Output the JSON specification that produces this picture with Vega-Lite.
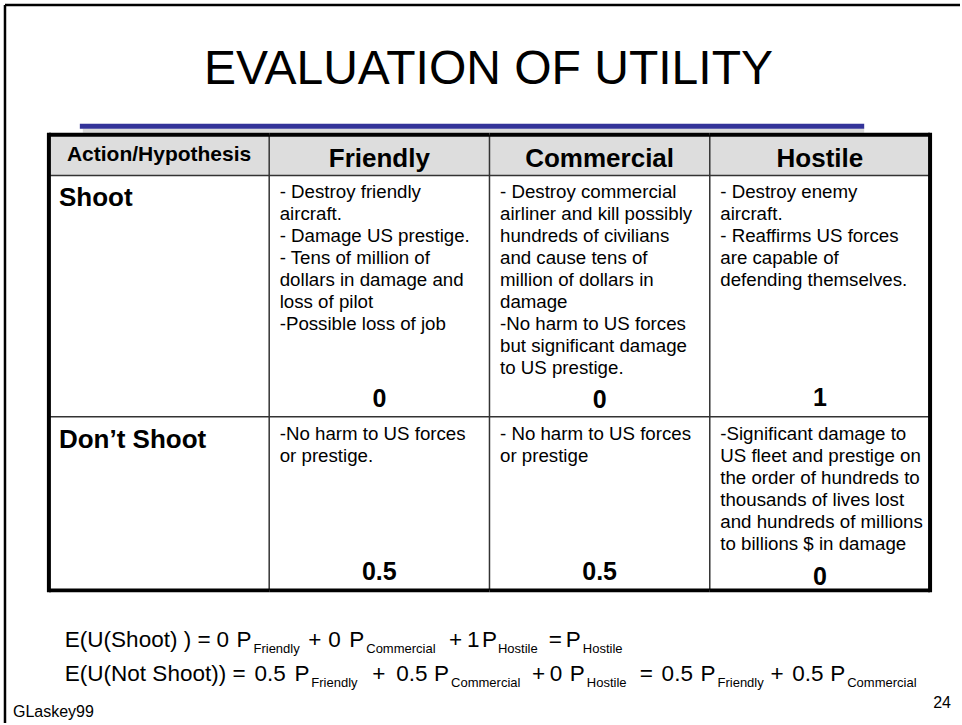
{
  "$schema": "https://vega.github.io/schema/vega-lite/v6.json",
  "width": 962,
  "height": 725,
  "autosize": {"type": "fit", "contains": "padding"},
  "padding": 0,
  "background": "white",
  "config": {"view": {"stroke": null}, "text": {"font": "Liberation Sans", "fill": "black"}},
  "datasets": {
    "cols": [
      {"col": "Action/Hypothesis"},
      {"col": "Friendly"},
      {"col": "Commercial"},
      {"col": "Hostile"}
    ],
    "cells": [
      {"row": "Shoot", "col": "Action/Hypothesis", "line": 3, "text": "Shoot"},
      {"row": "Shoot", "col": "Friendly", "line": 3, "text": "- Destroy friendly\naircraft.\n- Damage US prestige.\n\u00a0- Tens of million of\ndollars in damage and\nloss of pilot\n-Possible loss of job", "utility": "0", "uline": 12.5},
      {"row": "Shoot", "col": "Commercial", "line": 3, "text": "- Destroy commercial\nairliner and kill possibly\nhundreds of civilians\nand cause tens of\nmillion of dollars in\ndamage\n-No harm to US forces\nbut significant damage\nto US prestige.", "utility": "0", "uline": 12.55},
      {"row": "Shoot", "col": "Hostile", "line": 3, "text": "- Destroy enemy\naircraft.\n- Reaffirms US forces\nare capable of\ndefending themselves.", "utility": "1", "uline": 12.45},
      {"row": "Don’t Shoot", "col": "Action/Hypothesis", "line": 14, "text": "Don’t Shoot"},
      {"row": "Don’t Shoot", "col": "Friendly", "line": 14, "text": "-No harm to US forces\nor prestige.", "utility": "0.5", "uline": 20.41},
      {"row": "Don’t Shoot", "col": "Commercial", "line": 14, "text": "- No harm to US forces\nor prestige", "utility": "0.5", "uline": 20.41},
      {"row": "Don’t Shoot", "col": "Hostile", "line": 14, "text": "-Significant damage to\nUS fleet and prestige on\nthe order of hundreds to\nthousands of lives lost\nand hundreds of millions\nto billions $ in damage", "utility": "0", "uline": 20.64}
    ],
    "lines": [
      {"part": "frame", "x": 5, "x2": 5, "from": -5.818, "to": 26.909},
      {"part": "frame", "x": 5, "x2": 962, "from": -5.818, "to": -5.818},
      {"part": "underline", "x": 80, "x2": 866, "from": -0.295, "to": -0.295},
      {"part": "shadow", "x": 83, "x2": 866, "from": -0.091, "to": -0.091}
    ],
    "texts": [
      {"id": "title", "text": "EVALUATION OF UTILITY", "x": 489.5, "line": -2.227},
      {"id": "author", "text": "GLaskey99", "x": 13, "line": 26.636},
      {"id": "page", "text": "24", "x": 953, "line": 26.227}
    ],
    "equations": [
      {"eq": 1, "name": "E(U(Shoot))", "line": 23.45},
      {"eq": 2, "name": "E(U(Not Shoot))", "line": 25.0}
    ],
    "terms": [
      {"eq": 1, "x": 65, "t": "E(U(Shoot) )", "sub": false},
      {"eq": 1, "x": 198, "t": "=", "sub": false},
      {"eq": 1, "x": 217, "t": "0", "sub": false},
      {"eq": 1, "x": 237, "t": "P", "sub": false},
      {"eq": 1, "x": 254, "t": "Friendly", "sub": true},
      {"eq": 1, "x": 309, "t": "+", "sub": false},
      {"eq": 1, "x": 329, "t": "0", "sub": false},
      {"eq": 1, "x": 350, "t": "P", "sub": false},
      {"eq": 1, "x": 367, "t": "Commercial", "sub": true},
      {"eq": 1, "x": 450, "t": "+", "sub": false},
      {"eq": 1, "x": 468, "t": "1", "sub": false},
      {"eq": 1, "x": 483, "t": "P", "sub": false},
      {"eq": 1, "x": 499, "t": "Hostile", "sub": true},
      {"eq": 1, "x": 550, "t": "=", "sub": false},
      {"eq": 1, "x": 567, "t": "P", "sub": false},
      {"eq": 1, "x": 584, "t": "Hostile", "sub": true},
      {"eq": 2, "x": 65, "t": "E(U(Not Shoot))", "sub": false},
      {"eq": 2, "x": 233, "t": "=", "sub": false},
      {"eq": 2, "x": 255, "t": "0.5", "sub": false},
      {"eq": 2, "x": 295, "t": "P", "sub": false},
      {"eq": 2, "x": 312, "t": "Friendly", "sub": true},
      {"eq": 2, "x": 373, "t": "+", "sub": false},
      {"eq": 2, "x": 397, "t": "0.5", "sub": false},
      {"eq": 2, "x": 435, "t": "P", "sub": false},
      {"eq": 2, "x": 452, "t": "Commercial", "sub": true},
      {"eq": 2, "x": 533, "t": "+", "sub": false},
      {"eq": 2, "x": 551, "t": "0", "sub": false},
      {"eq": 2, "x": 571, "t": "P", "sub": false},
      {"eq": 2, "x": 588, "t": "Hostile", "sub": true},
      {"eq": 2, "x": 641, "t": "=", "sub": false},
      {"eq": 2, "x": 663, "t": "0.5", "sub": false},
      {"eq": 2, "x": 702, "t": "P", "sub": false},
      {"eq": 2, "x": 719, "t": "Friendly", "sub": true},
      {"eq": 2, "x": 772, "t": "+", "sub": false},
      {"eq": 2, "x": 794, "t": "0.5", "sub": false},
      {"eq": 2, "x": 832, "t": "P", "sub": false},
      {"eq": 2, "x": 849, "t": "Commercial", "sub": true}
    ]
  },
  "resolve": {"scale": {"x": "independent"}},
  "layer": [
    {
      "data": {"name": "lines"},
      "transform": [{"filter": "datum.part == 'frame'"}],
      "mark": {"type": "rule", "stroke": "black", "strokeWidth": 2.5},
      "encoding": {
        "x": {"field": "x", "type": "quantitative", "axis": null, "scale": {"domain": [0, 962], "nice": false, "zero": false}},
        "x2": {"field": "x2"},
        "y": {"field": "from", "type": "quantitative", "axis": null, "scale": {"domain": [-6.04545, 26.90909], "reverse": true, "nice": false, "zero": false}},
        "y2": {"field": "to"}
      }
    },
    {
      "data": {"name": "lines"},
      "transform": [{"filter": "datum.part == 'shadow'"}],
      "mark": {"type": "rule", "stroke": "#d9d9d9", "strokeWidth": 4},
      "encoding": {
        "x": {"field": "x", "type": "quantitative", "axis": null, "scale": {"domain": [0, 962], "nice": false, "zero": false}},
        "x2": {"field": "x2"},
        "y": {"field": "from", "type": "quantitative", "axis": null, "scale": {"domain": [-6.04545, 26.90909], "reverse": true, "nice": false, "zero": false}},
        "y2": {"field": "to"}
      }
    },
    {
      "data": {"name": "lines"},
      "transform": [{"filter": "datum.part == 'underline'"}],
      "mark": {"type": "rule", "stroke": "#333399", "strokeWidth": 5},
      "encoding": {
        "x": {"field": "x", "type": "quantitative", "axis": null, "scale": {"domain": [0, 962], "nice": false, "zero": false}},
        "x2": {"field": "x2"},
        "y": {"field": "from", "type": "quantitative", "axis": null, "scale": {"domain": [-6.04545, 26.90909], "reverse": true, "nice": false, "zero": false}},
        "y2": {"field": "to"}
      }
    },
    {
      "data": {"name": "cols"},
      "mark": {"type": "rect", "fill": "#dddddd"},
      "encoding": {
        "x": {"field": "col", "type": "nominal", "axis": null, "scale": {"type": "band", "domain": ["Action/Hypothesis", "Friendly", "Commercial", "Hostile"], "paddingInner": 0, "paddingOuter": 0.17894, "align": 0.6203}},
        "y": {"datum": 0.09, "type": "quantitative", "axis": null, "scale": {"domain": [-6.04545, 26.90909], "reverse": true, "nice": false, "zero": false}},
        "y2": {"datum": 1.955}
      }
    },
    {
      "data": {"name": "cols"},
      "transform": [{"filter": "datum.col != 'Action/Hypothesis'"}],
      "mark": {"type": "rule", "stroke": "#333333", "strokeWidth": 1.5},
      "encoding": {
        "x": {"field": "col", "type": "nominal", "bandPosition": 0, "axis": null, "scale": {"type": "band", "domain": ["Action/Hypothesis", "Friendly", "Commercial", "Hostile"], "paddingInner": 0, "paddingOuter": 0.17894, "align": 0.6203}},
        "y": {"datum": 0.1, "type": "quantitative", "axis": null, "scale": {"domain": [-6.04545, 26.90909], "reverse": true, "nice": false, "zero": false}},
        "y2": {"datum": 20.86}
      }
    },
    {
      "data": {"name": "cols"},
      "mark": {"type": "rect", "fill": "#333333"},
      "encoding": {
        "x": {"field": "col", "type": "nominal", "axis": null, "scale": {"type": "band", "domain": ["Action/Hypothesis", "Friendly", "Commercial", "Hostile"], "paddingInner": 0, "paddingOuter": 0.17894, "align": 0.6203}},
        "y": {"datum": 1.92, "type": "quantitative", "axis": null, "scale": {"domain": [-6.04545, 26.90909], "reverse": true, "nice": false, "zero": false}},
        "y2": {"datum": 1.99}
      }
    },
    {
      "data": {"name": "cols"},
      "mark": {"type": "rect", "fill": "#333333"},
      "encoding": {
        "x": {"field": "col", "type": "nominal", "axis": null, "scale": {"type": "band", "domain": ["Action/Hypothesis", "Friendly", "Commercial", "Hostile"], "paddingInner": 0, "paddingOuter": 0.17894, "align": 0.6203}},
        "y": {"datum": 12.92, "type": "quantitative", "axis": null, "scale": {"domain": [-6.04545, 26.90909], "reverse": true, "nice": false, "zero": false}},
        "y2": {"datum": 12.99}
      }
    },
    {
      "data": {"name": "cols"},
      "mark": {"type": "rect", "fill": "black"},
      "encoding": {
        "x": {"field": "col", "type": "nominal", "axis": null, "scale": {"type": "band", "domain": ["Action/Hypothesis", "Friendly", "Commercial", "Hostile"], "paddingInner": 0, "paddingOuter": 0.17894, "align": 0.6203}},
        "y": {"datum": 0, "type": "quantitative", "axis": null, "scale": {"domain": [-6.04545, 26.90909], "reverse": true, "nice": false, "zero": false}},
        "y2": {"datum": 0.182}
      }
    },
    {
      "data": {"name": "cols"},
      "mark": {"type": "rect", "fill": "black"},
      "encoding": {
        "x": {"field": "col", "type": "nominal", "axis": null, "scale": {"type": "band", "domain": ["Action/Hypothesis", "Friendly", "Commercial", "Hostile"], "paddingInner": 0, "paddingOuter": 0.17894, "align": 0.6203}},
        "y": {"datum": 20.773, "type": "quantitative", "axis": null, "scale": {"domain": [-6.04545, 26.90909], "reverse": true, "nice": false, "zero": false}},
        "y2": {"datum": 20.955}
      }
    },
    {
      "data": {"name": "cols"},
      "transform": [{"filter": "datum.col == 'Action/Hypothesis'"}],
      "mark": {"type": "rule", "stroke": "black", "strokeWidth": 4},
      "encoding": {
        "x": {"field": "col", "type": "nominal", "bandPosition": 0, "axis": null, "scale": {"type": "band", "domain": ["Action/Hypothesis", "Friendly", "Commercial", "Hostile"], "paddingInner": 0, "paddingOuter": 0.17894, "align": 0.6203}},
        "y": {"datum": 0, "type": "quantitative", "axis": null, "scale": {"domain": [-6.04545, 26.90909], "reverse": true, "nice": false, "zero": false}},
        "y2": {"datum": 20.955}
      }
    },
    {
      "data": {"name": "cols"},
      "transform": [{"filter": "datum.col == 'Hostile'"}],
      "mark": {"type": "rule", "stroke": "black", "strokeWidth": 4},
      "encoding": {
        "x": {"field": "col", "type": "nominal", "bandPosition": 1, "axis": null, "scale": {"type": "band", "domain": ["Action/Hypothesis", "Friendly", "Commercial", "Hostile"], "paddingInner": 0, "paddingOuter": 0.17894, "align": 0.6203}},
        "y": {"datum": 0, "type": "quantitative", "axis": null, "scale": {"domain": [-6.04545, 26.90909], "reverse": true, "nice": false, "zero": false}},
        "y2": {"datum": 20.955}
      }
    },
    {
      "data": {"name": "cols"},
      "transform": [{"filter": "datum.col == 'Action/Hypothesis'"}],
      "mark": {"type": "text", "fontSize": 21, "fontWeight": "bold", "align": "center", "baseline": "alphabetic"},
      "encoding": {
        "x": {"field": "col", "type": "nominal", "bandPosition": 0.5, "axis": null, "scale": {"type": "band", "domain": ["Action/Hypothesis", "Friendly", "Commercial", "Hostile"], "paddingInner": 0, "paddingOuter": 0.17894, "align": 0.6203}},
        "y": {"datum": 1.273, "type": "quantitative", "axis": null, "scale": {"domain": [-6.04545, 26.90909], "reverse": true, "nice": false, "zero": false}},
        "text": {"field": "col", "type": "nominal"}
      }
    },
    {
      "data": {"name": "cols"},
      "transform": [{"filter": "datum.col != 'Action/Hypothesis'"}],
      "mark": {"type": "text", "fontSize": 26, "fontWeight": "bold", "align": "center", "baseline": "alphabetic"},
      "encoding": {
        "x": {"field": "col", "type": "nominal", "bandPosition": 0.5, "axis": null, "scale": {"type": "band", "domain": ["Action/Hypothesis", "Friendly", "Commercial", "Hostile"], "paddingInner": 0, "paddingOuter": 0.17894, "align": 0.6203}},
        "y": {"datum": 1.545, "type": "quantitative", "axis": null, "scale": {"domain": [-6.04545, 26.90909], "reverse": true, "nice": false, "zero": false}},
        "text": {"field": "col", "type": "nominal"}
      }
    },
    {
      "data": {"name": "cells"},
      "transform": [{"filter": "datum.col == 'Action/Hypothesis'"}],
      "mark": {"type": "text", "fontSize": 26, "fontWeight": "bold", "align": "left", "baseline": "alphabetic", "dx": 10, "dy": 8},
      "encoding": {
        "x": {"field": "col", "type": "nominal", "bandPosition": 0, "axis": null, "scale": {"type": "band", "domain": ["Action/Hypothesis", "Friendly", "Commercial", "Hostile"], "paddingInner": 0, "paddingOuter": 0.17894, "align": 0.6203}},
        "y": {"field": "line", "type": "quantitative", "axis": null, "scale": {"domain": [-6.04545, 26.90909], "reverse": true, "nice": false, "zero": false}},
        "text": {"field": "text", "type": "nominal"}
      }
    },
    {
      "data": {"name": "cells"},
      "transform": [{"filter": "datum.col != 'Action/Hypothesis'"}],
      "mark": {"type": "text", "fontSize": 18.7, "align": "left", "baseline": "alphabetic", "dx": 10.5, "lineBreak": "\n", "lineHeight": 22},
      "encoding": {
        "x": {"field": "col", "type": "nominal", "bandPosition": 0, "axis": null, "scale": {"type": "band", "domain": ["Action/Hypothesis", "Friendly", "Commercial", "Hostile"], "paddingInner": 0, "paddingOuter": 0.17894, "align": 0.6203}},
        "y": {"field": "line", "type": "quantitative", "axis": null, "scale": {"domain": [-6.04545, 26.90909], "reverse": true, "nice": false, "zero": false}},
        "text": {"field": "text", "type": "nominal"}
      }
    },
    {
      "data": {"name": "cells"},
      "transform": [{"filter": "datum.col != 'Action/Hypothesis'"}],
      "mark": {"type": "text", "fontSize": 25, "fontWeight": "bold", "align": "center", "baseline": "alphabetic"},
      "encoding": {
        "x": {"field": "col", "type": "nominal", "bandPosition": 0.5, "axis": null, "scale": {"type": "band", "domain": ["Action/Hypothesis", "Friendly", "Commercial", "Hostile"], "paddingInner": 0, "paddingOuter": 0.17894, "align": 0.6203}},
        "y": {"field": "uline", "type": "quantitative", "axis": null, "scale": {"domain": [-6.04545, 26.90909], "reverse": true, "nice": false, "zero": false}},
        "text": {"field": "utility", "type": "nominal"}
      }
    },
    {
      "data": {"name": "texts"},
      "transform": [{"filter": "datum.id == 'title'"}],
      "mark": {"type": "text", "fontSize": 48, "align": "center", "baseline": "alphabetic"},
      "encoding": {
        "x": {"field": "x", "type": "quantitative", "axis": null, "scale": {"domain": [0, 962], "nice": false, "zero": false}},
        "y": {"field": "line", "type": "quantitative", "axis": null, "scale": {"domain": [-6.04545, 26.90909], "reverse": true, "nice": false, "zero": false}},
        "text": {"field": "text", "type": "nominal"}
      }
    },
    {
      "data": {"name": "texts"},
      "transform": [{"filter": "datum.id == 'author'"}],
      "mark": {"type": "text", "fontSize": 16, "align": "left", "baseline": "alphabetic"},
      "encoding": {
        "x": {"field": "x", "type": "quantitative", "axis": null, "scale": {"domain": [0, 962], "nice": false, "zero": false}},
        "y": {"field": "line", "type": "quantitative", "axis": null, "scale": {"domain": [-6.04545, 26.90909], "reverse": true, "nice": false, "zero": false}},
        "text": {"field": "text", "type": "nominal"}
      }
    },
    {
      "data": {"name": "texts"},
      "transform": [{"filter": "datum.id == 'page'"}],
      "mark": {"type": "text", "fontSize": 16, "align": "right", "baseline": "alphabetic"},
      "encoding": {
        "x": {"field": "x", "type": "quantitative", "axis": null, "scale": {"domain": [0, 962], "nice": false, "zero": false}},
        "y": {"field": "line", "type": "quantitative", "axis": null, "scale": {"domain": [-6.04545, 26.90909], "reverse": true, "nice": false, "zero": false}},
        "text": {"field": "text", "type": "nominal"}
      }
    },
    {
      "data": {"name": "terms"},
      "transform": [
        {"filter": "!datum.sub"},
        {"lookup": "eq", "from": {"data": {"name": "equations"}, "key": "eq", "fields": ["line"]}}
      ],
      "mark": {"type": "text", "fontSize": 22.5, "align": "left", "baseline": "alphabetic"},
      "encoding": {
        "x": {"field": "x", "type": "quantitative", "axis": null, "scale": {"domain": [0, 962], "nice": false, "zero": false}},
        "y": {"field": "line", "type": "quantitative", "axis": null, "scale": {"domain": [-6.04545, 26.90909], "reverse": true, "nice": false, "zero": false}},
        "text": {"field": "t", "type": "nominal"}
      }
    },
    {
      "data": {"name": "terms"},
      "transform": [
        {"filter": "datum.sub"},
        {"lookup": "eq", "from": {"data": {"name": "equations"}, "key": "eq", "fields": ["line"]}}
      ],
      "mark": {"type": "text", "fontSize": 13, "align": "left", "baseline": "alphabetic", "dy": 5.5},
      "encoding": {
        "x": {"field": "x", "type": "quantitative", "axis": null, "scale": {"domain": [0, 962], "nice": false, "zero": false}},
        "y": {"field": "line", "type": "quantitative", "axis": null, "scale": {"domain": [-6.04545, 26.90909], "reverse": true, "nice": false, "zero": false}},
        "text": {"field": "t", "type": "nominal"}
      }
    }
  ]
}
